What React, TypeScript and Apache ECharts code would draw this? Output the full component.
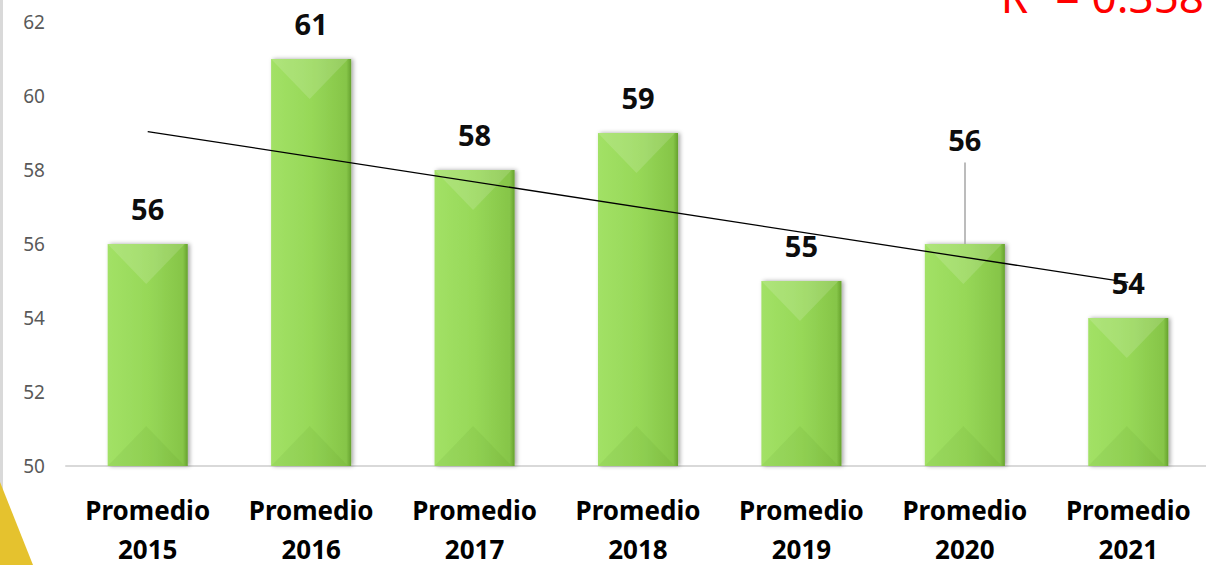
import React, { useEffect, useRef } from "react";
import * as echarts from "echarts";

const categories = [
  "Promedio\n2015",
  "Promedio\n2016",
  "Promedio\n2017",
  "Promedio\n2018",
  "Promedio\n2019",
  "Promedio\n2020",
  "Promedio\n2021",
];
const values = [56, 61, 58, 59, 55, 56, 54];
// linear trend line end points (first and last category)
const trendStart = 59.04;
const trendEnd = 54.96;
const yTicks = { min: 50, max: 62, interval: 2 };
const r2Text = "R² = 0.358";
// label of 2020 moved up, with leader line to this value
const leaderTop = 58.2;

export default function App() {
  const ref = useRef<HTMLDivElement>(null);
  useEffect(() => {
    if (!ref.current) return;
    const chart = echarts.init(ref.current, undefined, { renderer: "svg" });
    const font = "'Noto Sans', sans-serif";
    const barData = values.map((v, i) =>
      i === 5 ? { value: v, label: { offset: [0, -69] } } : v
    );
    chart.setOption({
      animation: false,
      backgroundColor: "#ffffff",
      grid: {
        left: 66,
        right: -4,
        top: 22,
        bottom: 99,
        containLabel: false,
        outerBoundsMode: "none",
      },
      xAxis: {
        type: "category",
        data: categories,
        axisLine: { show: true, lineStyle: { color: "#d9d9d9", width: 2 } },
        axisTick: { show: false },
        axisLabel: {
          color: "#000000",
          fontFamily: font,
          fontWeight: "bold",
          fontSize: 26,
          lineHeight: 39,
          margin: 24,
          interval: 0,
        },
      },
      yAxis: {
        type: "value",
        min: yTicks.min,
        max: yTicks.max,
        interval: yTicks.interval,
        axisLine: { show: false },
        axisTick: { show: false },
        splitLine: { show: false },
        axisLabel: {
          color: "#595959",
          fontFamily: font,
          fontSize: 19,
          margin: 21,
        },
      },
      series: [
        {
          type: "bar",
          data: barData,
          barWidth: "49%",
          itemStyle: {
            color: new echarts.graphic.LinearGradient(1, 0, 0, 0, [
              { offset: 0, color: "#66a22e" },
              { offset: 0.06, color: "#86c548" },
              { offset: 0.5, color: "#97d858" },
              { offset: 1, color: "#a2e166" },
            ]),
            shadowColor: "rgba(0,0,0,0.35)",
            shadowBlur: 4,
            shadowOffsetX: 2,
            shadowOffsetY: 0,
          },
          label: {
            show: true,
            position: "top",
            distance: 21,
            color: "#0d0d0d",
            fontFamily: font,
            fontWeight: "bold",
            fontSize: 29,
          },
          markLine: {
            silent: true,
            symbol: ["none", "none"],
            label: { show: false },
            data: [
              [
                { coord: [0, trendStart], lineStyle: { color: "#000000", width: 1.3, type: "solid" } },
                { coord: [6, trendEnd] },
              ],
              [
                { coord: [5, values[5]], lineStyle: { color: "#a6a6a6", width: 1.5, type: "solid" } },
                { coord: [5, leaderTop] },
              ],
            ],
          },
          z: 2,
        },
        {
          type: "custom",
          silent: true,
          z: 3,
          data: values.map((v, i) => [i, v]),
          encode: { x: 0, y: 1 },
          renderItem: (params: any, api: any) => {
            const idx = api.value(0);
            const val = api.value(1);
            const top = api.coord([idx, val]);
            const bottom = api.coord([idx, yTicks.min]);
            const bw = api.size([1, 0])[0] * 0.49;
            const x0 = top[0] - bw / 2;
            const x1 = top[0] + bw / 2 - 3;
            const h = bw / 2;
            return {
              type: "group",
              children: [
                {
                  type: "polygon",
                  shape: { points: [[x0, top[1]], [x1, top[1]], [(x0 + x1) / 2, top[1] + h]] },
                  style: { fill: "rgba(255,255,255,0.14)" },
                },
                {
                  type: "polygon",
                  shape: { points: [[x0, bottom[1]], [x1, bottom[1]], [(x0 + x1) / 2, bottom[1] - h]] },
                  style: { fill: "rgba(60,120,20,0.07)" },
                },
              ],
            };
          },
        },
      ],
      graphic: [
        {
          type: "rect",
          left: 0,
          top: 0,
          shape: { x: 0, y: 0, width: 3, height: 565 },
          style: { fill: "#d9d9d9" },
          z: 10,
        },
        {
          type: "polygon",
          shape: { points: [[0, 482], [33, 565], [0, 565]] },
          style: { fill: "#e5c22e" },
          z: 11,
        },
        {
          type: "text",
          x: 1204,
          y: -4,
          style: {
            text: r2Text,
            fill: "#ff0000",
            fontFamily: font,
            fontSize: 44,
            align: "right",
            verticalAlign: "middle",
          },
          z: 10,
        },
      ],
    });
    return () => chart.dispose();
  }, []);
  return (
    <div
      ref={ref}
      style={{ position: "fixed", left: 0, top: 0, width: 1206, height: 565 }}
    />
  );
}
